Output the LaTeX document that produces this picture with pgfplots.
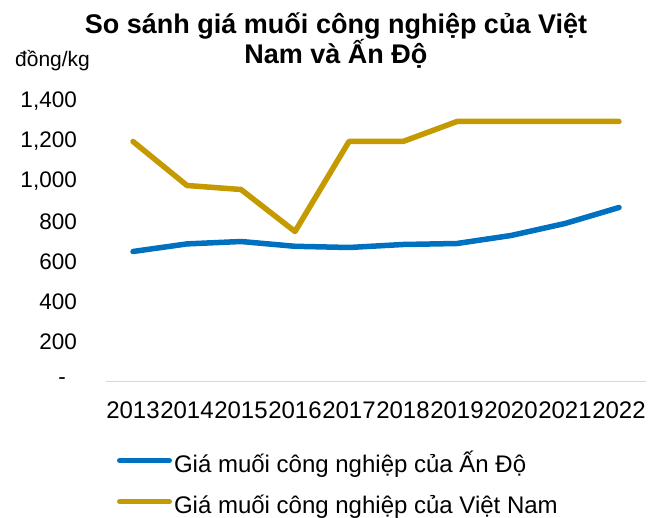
\documentclass[border=0pt]{standalone}
\usepackage{pgfplots}
\pgfplotsset{compat=1.18}
\usepackage{fontspec}
\setmainfont{Liberation Sans}
\definecolor{inblue}{HTML}{0070C0}
\definecolor{vngold}{HTML}{C49A00}
\definecolor{axgray}{HTML}{D9D9D9}
\begin{document}
\begin{tikzpicture}[x=1pt,y=1pt]
\path[use as bounding box] (0,0) rectangle (659,-518);
\begin{axis}[
  at={(106pt,-381.5pt)}, anchor=south west,
  scale only axis, width=540pt, height=280pt,
  xmin=-0.5, xmax=9.5, ymin=0, ymax=1400,
  axis line style={draw=none},
  major tick length=0pt, tick style={draw=none},
  xtick={0,1,2,3,4,5,6,7,8,9},
  xticklabels={2013,2014,2015,2016,2017,2018,2019,2020,2021,2022},
  ytick={0,200,400,600,800,1000,1200,1400},
  yticklabels={{-\rule{11pt}{0pt}},200,400,600,800,{1,000},{1,200},{1,400}},
  xticklabel style={font=\fontsize{24}{28}\selectfont, anchor=center, inner sep=0pt, yshift=-28.5pt},
  yticklabel style={font=\fontsize{22.5}{27}\selectfont, anchor=east, inner sep=0pt, xshift=-29pt},
  clip=false,
  legend cell align=left,
  legend image code/.code={%
    \path[draw=none, fill=none] (0pt,0pt) rectangle (57pt,11pt);
    \draw[#1, line width=5.5pt, line cap=round] (2.75pt,5.5pt) -- (52.25pt,5.5pt);},
  legend style={at={(rel axis cs:0.0204,-0.263)}, anchor=north west,
    draw=none, fill=none, inner sep=0pt, outer sep=0pt,
    font=\fontsize{24}{28}\selectfont, row sep=19pt,
    nodes={inner sep=0pt, text height=17pt, text depth=5pt}},
]
\draw[axgray, line width=1.5pt] (rel axis cs:0,0) -- (rel axis cs:1,0);
\addplot[inblue, line width=5.5pt, line join=round, line cap=round] coordinates {
  (0,650) (1,688) (2,700) (3,676) (4,670) (5,685) (6,690) (7,730) (8,790) (9,870)};
\addlegendentry{Giá muối công nghiệp của Ấn Độ}
\addplot[vngold, line width=5.5pt, line join=round, line cap=round] coordinates {
  (0,1200) (1,980) (2,960) (3,750) (4,1200) (5,1200) (6,1300) (7,1300) (8,1300) (9,1300)};
\addlegendentry{Giá muối công nghiệp của Việt Nam}
\end{axis}
\node[anchor=base, inner sep=0pt, font=\bfseries\fontsize{27}{31}\selectfont] at (336,-34) {So sánh giá muối công nghiệp của Việt};
\node[anchor=base, inner sep=0pt, font=\bfseries\fontsize{27}{31}\selectfont] at (336,-64) {Nam và Ấn Độ};
\node[anchor=base west, inner sep=0pt, font=\fontsize{21}{25}\selectfont] at (15,-67) {đồng/kg};
\end{tikzpicture}
\end{document}
